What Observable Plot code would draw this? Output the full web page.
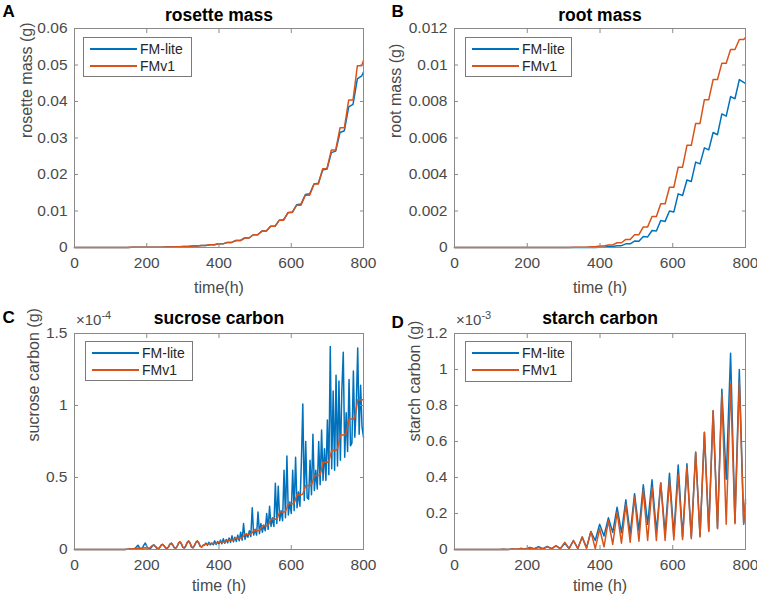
<!DOCTYPE html>
<html><head><meta charset="utf-8">
<script src="https://cdn.jsdelivr.net/npm/d3@7"></script>
<script src="https://cdn.jsdelivr.net/npm/@observablehq/plot@0.6"></script>
<style>
body{margin:0;background:#fff;font-family:"Liberation Sans",Arial,sans-serif;}
#fig{position:relative;width:757px;height:598px;overflow:hidden;background:#fff;}
.panel{position:absolute;}
.legend{position:absolute;box-sizing:border-box;border:1px solid #7a7a7a;background:#fff;font-size:14px;color:#262626;}
.legend .row{position:absolute;left:0;height:16px;line-height:16px;white-space:nowrap;}
.legend .sw{position:absolute;top:7px;height:2px;}
.legend .lab{position:absolute;}
.expo{position:absolute;font-size:15px;color:#4a4a4a;white-space:nowrap;}
.expo sup{font-size:11px;vertical-align:0;position:relative;top:-6px;}
</style></head><body><div id="fig"></div>
<script>
// ---------- data ----------
const BLUE = "#0072BD", ORANGE = "#D95319";
const seriesNames = ["FM-lite", "FMv1"];
const xTicks = [0, 200, 400, 600, 800];
const xTickLabels = ["0", "200", "400", "600", "800"];

// time grid (h): start, then dawn/dusk of each day, then end
const t12 = [0,
  3,15, 27,39, 51,63, 75,87, 99,111, 123,135, 147,159, 171,183, 195,207, 219,231,
  243,255, 267,279, 291,303, 315,327, 339,351, 363,375, 387,399, 411,423, 435,447,
  459,471, 483,495, 507,519, 531,543, 555,567, 579,591, 603,615, 627,639, 651,663,
  675,687, 699,711, 723,735, 747,759, 771,783, 795, 800];

// A: rosette mass (g)
const rosetteLite = [0.000005,
  0.000005,0.000006, 0.000006,0.000008, 0.000008,0.00001, 0.00001,0.000013, 0.000013,0.000018,
  0.000018,0.000025, 0.000025,0.000035, 0.000035,0.00005, 0.00005,0.00007, 0.00007,0.0001,
  0.0001,0.00014, 0.00014,0.0002, 0.0002,0.00029, 0.00029,0.0004, 0.0004,0.00055,
  0.00055,0.00075, 0.00075,0.001, 0.001,0.0014, 0.0014,0.0019, 0.0019,0.0026,
  0.0026,0.0035, 0.0035,0.0045, 0.0045,0.0058, 0.0058,0.0075, 0.0076,0.0095,
  0.0097,0.0117, 0.0119,0.0145, 0.0147,0.0174, 0.0176,0.0212, 0.0215,0.026,
  0.0264,0.0315, 0.032,0.0385, 0.0392,0.0462, 0.047, 0.0481];
const rosetteV1 = [0.000005,
  0.000005,0.000006, 0.000006,0.000008, 0.000008,0.00001, 0.00001,0.000013, 0.000013,0.000018,
  0.000018,0.000025, 0.000025,0.000035, 0.000035,0.00005, 0.00005,0.00007, 0.00007,0.0001,
  0.0001,0.00014, 0.00014,0.0002, 0.0002,0.00029, 0.00029,0.0004, 0.0004,0.00055,
  0.00055,0.00075, 0.00075,0.001, 0.001,0.0014, 0.0014,0.0019, 0.0019,0.0026,
  0.0026,0.0035, 0.0035,0.0045, 0.0045,0.0058, 0.0058,0.0075, 0.0075,0.0096,
  0.0096,0.0116, 0.0116,0.0143, 0.0143,0.0174, 0.0174,0.0216, 0.0216,0.0267,
  0.0267,0.0328, 0.0328,0.0404, 0.0404,0.0498, 0.0498, 0.0512];
const aYTicks = [0, 0.01, 0.02, 0.03, 0.04, 0.05, 0.06];
const aYLabels = ["0", "0.01", "0.02", "0.03", "0.04", "0.05", "0.06"];

// B: root mass (g)
const rootLite = [0,
  0,0, 0,0, 0,0, 0,0, 0,0, 0,0, 0,0, 0,0, 0,0, 0,0,
  0,0, 0,0, 0,0, 0,0, 0,0, 0,0.000005, 0.000005,0.00002, 0.00002,0.00005, 0.00005,0.0001,
  0.0001,0.0002, 0.0002,0.00035, 0.00034,0.0006, 0.00058,0.00093, 0.0009,0.00148, 0.00143,0.002,
  0.00195,0.00294, 0.00285,0.0037, 0.00362,0.00468, 0.00458,0.00546, 0.00535,0.0063,
  0.00618,0.00732, 0.0072,0.00827, 0.00815,0.0092, 0.00905, 0.0090];
const rootV1 = [0,
  0,0, 0,0, 0,0, 0,0, 0,0, 0,0, 0,0, 0,0, 0,0, 0,0,
  0,0, 0,0, 0,0.000005, 0.000005,0.00001, 0.00001,0.00002, 0.00002,0.00004, 0.00004,0.00008, 0.00008,0.00014, 0.00014,0.00026,
  0.00026,0.00044, 0.00044,0.0007, 0.0007,0.00113, 0.00113,0.0017, 0.0017,0.0024, 0.0024,0.0033,
  0.0033,0.0044, 0.0044,0.0056, 0.0056,0.0068, 0.0068,0.0081, 0.0081,0.0092,
  0.0092,0.0101, 0.0101,0.01085, 0.01085,0.0114, 0.0114, 0.0115];
const bYTicks = [0, 0.002, 0.004, 0.006, 0.008, 0.01, 0.012];
const bYLabels = ["0", "0.002", "0.004", "0.006", "0.008", "0.01", "0.012"];

// C: sucrose carbon (units of 1e-4 g), sampled every 4 h
const t4 = d3.range(0, 801, 4);
const sucroseLite = [
  0,0,0,0,0,0, 0,0,0,0,0,0, 0,0,0,0,0,0, 0,0,0,0,0,0, 0,0,0,0,0,0, 0,0,0,0,0,0,
  0.001,0.002,0.003,0.004,0.005,0.006,
  0.008,0.02,0.03,0.012,0.006,0.01,
  0.03,0.045,0.022,0.008,0.006,0.012,
  0.026,0.032,0.02,0.009,0.006,0.014,
  0.03,0.036,0.025,0.011,0.007,0.017,
  0.036,0.043,0.03,0.013,0.008,0.02,
  0.043,0.052,0.038,0.015,0.01,0.024,
  0.048,0.057,0.043,0.018,0.012,0.027,
  0.048,0.058,0.045,0.022,0.017,0.03,
  0.03,0.045,0.028,0.05,0.032,0.045,
  0.033,0.06,0.035,0.055,0.038,0.065,
  0.04,0.075,0.043,0.07,0.046,0.08,
  0.05,0.095,0.053,0.085,0.056,0.1,
  0.06,0.12,0.065,0.18,0.07,0.11,
  0.085,0.13,0.09,0.29,0.10,0.14,
  0.10,0.26,0.11,0.18,0.12,0.17,
  0.13,0.25,0.14,0.30,0.16,0.22,
  0.16,0.46,0.18,0.44,0.20,0.27,
  0.20,0.55,0.22,0.65,0.24,0.33,
  0.25,0.55,0.27,0.64,0.29,0.40,
  0.30,0.60,1.01,0.34,0.75,0.36,
  0.35,0.62,0.38,0.80,0.41,0.55,
  0.42,0.75,0.45,0.83,0.48,0.70,
  0.48,0.90,0.52,1.41,0.56,1.10,
  0.55,1.21,0.58,1.17,0.62,1.10,
  1.37,0.64,0.95,0.68,1.18,0.72,
  0.74,1.24,0.78,1.00,1.40,0.80,
  1.14,0.85,0.78];
const sucroseV1 = [
  0,0,0,0,0,0, 0,0,0,0,0,0, 0,0,0,0,0,0, 0,0,0,0,0,0, 0,0,0,0,0,0, 0,0,0,0,0,0,
  0.001,0.002,0.003,0.004,0.005,0.005,
  0.006,0.008,0.01,0.008,0.006,0.008,
  0.01,0.012,0.01,0.008,0.01,0.02,
  0.028,0.03,0.022,0.01,0.006,0.015,
  0.03,0.035,0.026,0.012,0.007,0.018,
  0.038,0.045,0.033,0.014,0.008,0.02,
  0.045,0.055,0.04,0.016,0.01,0.025,
  0.05,0.06,0.045,0.018,0.012,0.028,
  0.05,0.06,0.047,0.022,0.018,0.028,
  0.035,0.036,0.036,0.039,0.042,0.042,
  0.042,0.042,0.042,0.047,0.052,0.052,
  0.052,0.052,0.052,0.058,0.065,0.065,
  0.065,0.065,0.066,0.073,0.08,0.08,
  0.08,0.08,0.082,0.093,0.105,0.105,
  0.105,0.105,0.107,0.118,0.13,0.13,
  0.13,0.13,0.133,0.15,0.165,0.165,
  0.165,0.165,0.168,0.19,0.21,0.21,
  0.21,0.21,0.213,0.235,0.26,0.26,
  0.26,0.26,0.265,0.29,0.317,0.317,
  0.317,0.317,0.322,0.35,0.38,0.38,
  0.38,0.38,0.386,0.415,0.444,0.444,
  0.444,0.444,0.45,0.48,0.514,0.514,
  0.514,0.514,0.52,0.56,0.606,0.606,
  0.606,0.606,0.612,0.65,0.69,0.69,
  0.69,0.69,0.698,0.745,0.796,0.796,
  0.796,0.796,0.805,0.855,0.907,0.907,
  0.907,0.907,0.917,0.975,1.04,1.04,
  1.04,1.04,1.04];
const cYTicks = [0, 0.5, 1, 1.5];
const cYLabels = ["0", "0.5", "1", "1.5"];

// D: starch carbon (units of 1e-3 g)
const starchLite = [0,
  0,0, 0,0, 0,0, 0,0, 0,0, 0,0.001, 0,0.003, 0.001,0.006, 0.003,0.012, 0.004,0.015,
  0.004,0.017, 0.005,0.02, 0.005,0.035, 0.006,0.05, 0.006,0.07, 0.01,0.10, 0.05,0.14, 0.075,0.176, 0.095,0.235,
  0.093,0.276, 0.087,0.31, 0.105,0.36, 0.14,0.387, 0.1,0.37, 0.09,0.424,
  0.08,0.47, 0.07,0.476, 0.07,0.54, 0.075,0.65, 0.105,0.77,
  0.12,0.89, 0.39,1.09, 0.15,1.0, 0.14, 0.26];
const starchV1 = [0,
  0,0, 0,0, 0,0, 0,0, 0,0, 0,0.001, 0,0.003, 0.001,0.005, 0.002,0.008, 0.003,0.011,
  0.003,0.015, 0.004,0.022, 0.004,0.04, 0.005,0.05, 0.005,0.07, 0.006,0.10, 0.005,0.115, 0.015,0.16, 0.028,0.207,
  0.035,0.25, 0.04,0.29, 0.046,0.33, 0.05,0.346, 0.05,0.37, 0.05,0.385,
  0.053,0.415, 0.055,0.457, 0.06,0.54, 0.069,0.652, 0.10,0.772,
  0.115,0.865, 0.14,0.92, 0.143,0.93, 0.146, 0.28];
const dYTicks = [0, 0.2, 0.4, 0.6, 0.8, 1, 1.2];
const dYLabels = ["0", "0.2", "0.4", "0.6", "0.8", "1", "1.2"];

// ---------- drawing ----------
const FONT = '"Liberation Sans", Arial, Helvetica, sans-serif';
const FRAME = "#8a8a8a";
const TICKTXT = "#4a4a4a";
const fig = document.getElementById("fig");

function panel(cfg) {
  const [bx, by, bw, bh] = cfg.box;          // svg box in page
  const [fx0, fx1, fy0, fy1] = cfg.frame;    // frame in page
  const mL = fx0 - bx, mR = bx + bw - fx1, mT = fy0 - by, mB = by + bh - fy1;
  const xFmt = d => xTickLabels[xTicks.indexOf(d)];
  const yFmt = d => cfg.yLabels[cfg.yTicks.indexOf(d)];
  const liteRows = cfg.times.map((t, i) => ({t, v: cfg.lite[i]}));
  const v1Rows = cfg.times.map((t, i) => ({t, v: cfg.v1[i]}));
  const blank = () => "";
  const txt = (s, o) => Plot.text([s], {text: d => d, fontFamily: FONT, ...o});
  const svg = Plot.plot({
    width: bw, height: bh,
    marginLeft: mL, marginRight: mR, marginTop: mT, marginBottom: mB,
    x: {domain: [0, 800]},
    y: {domain: cfg.yDomain},
    style: {fontFamily: FONT, background: "transparent", overflow: "visible"},
    marks: [
      Plot.line(liteRows, {x: "t", y: "v", stroke: BLUE, strokeWidth: 1.5}),
      Plot.line(v1Rows, {x: "t", y: "v", stroke: ORANGE, strokeWidth: 1.5}),
      Plot.frame({stroke: FRAME, strokeWidth: 1}),
      // inward ticks on four sides
      Plot.axisX(xTicks, {anchor: "bottom", tickSize: 4, dy: -4, tickFormat: blank, label: null, stroke: FRAME}),
      Plot.axisX(xTicks, {anchor: "top", tickSize: 4, dy: 4, tickFormat: blank, label: null, stroke: FRAME}),
      Plot.axisY(cfg.yTicks, {anchor: "left", tickSize: 4, dx: 4, tickFormat: blank, label: null, stroke: FRAME}),
      Plot.axisY(cfg.yTicks, {anchor: "right", tickSize: 4, dx: -4, tickFormat: blank, label: null, stroke: FRAME}),
      // tick labels
      Plot.axisX(xTicks, {anchor: "bottom", tickSize: 0, tickPadding: 9, tickFormat: xFmt, label: null, fontSize: 15.5, fill: TICKTXT}),
      Plot.axisY(cfg.yTicks, {anchor: "left", tickSize: 0, tickPadding: 7, tickFormat: yFmt, label: null, fontSize: 15.5, fill: TICKTXT}),
      // title, panel letter, axis labels
      txt(cfg.title, {frameAnchor: "top", dy: cfg.titleBase - fy0, lineAnchor: "bottom", fontSize: 17.5, fontWeight: "bold", fill: "#000"}),
      txt(cfg.letter, {frameAnchor: "top-left", textAnchor: "start", dx: cfg.letterPos[0] - fx0, dy: cfg.letterPos[1] - fy0, lineAnchor: "bottom", fontSize: 17, fontWeight: "bold", fill: "#000"}),
      txt(cfg.xlabel, {frameAnchor: "bottom", dy: cfg.xlabelBase - fy1, lineAnchor: "bottom", fontSize: 16, fill: TICKTXT}),
      txt(cfg.ylabel, {frameAnchor: "left", dx: cfg.ylabelBase - fx0, rotate: -90, lineAnchor: "bottom", fontSize: 16, fill: TICKTXT})
    ]
  });
  const wrap = document.createElement("div");
  wrap.className = "panel";
  wrap.style.left = bx + "px"; wrap.style.top = by + "px";
  wrap.appendChild(svg);
  fig.appendChild(wrap);

  // legend
  const [lx, ly, lw, lh] = cfg.legend;
  const lg = document.createElement("div");
  lg.className = "legend";
  Object.assign(lg.style, {left: lx + "px", top: ly + "px", width: lw + "px", height: lh + "px"});
  [BLUE, ORANGE].forEach((c, i) => {
    const row = document.createElement("div");
    row.className = "row";
    row.style.top = (3 + i * 17) + "px";
    row.style.width = lw + "px";
    const sw = document.createElement("span");
    sw.className = "sw";
    Object.assign(sw.style, {left: "6px", width: "47px", background: c});
    const lab = document.createElement("span");
    lab.className = "lab";
    lab.style.left = "56px";
    lab.textContent = seriesNames[i];
    row.appendChild(sw); row.appendChild(lab);
    lg.appendChild(row);
  });
  fig.appendChild(lg);

  if (cfg.expo) {
    const e = document.createElement("div");
    e.className = "expo";
    e.style.left = cfg.expo.x + "px";
    e.style.top = cfg.expo.y + "px";
    e.innerHTML = "×10<sup>" + cfg.expo.p + "</sup>";
    fig.appendChild(e);
  }
}

panel({box: [0, 0, 378, 300], frame: [74, 363, 28, 247], yDomain: [0, 0.06], yTicks: aYTicks, yLabels: aYLabels,
  times: t12, lite: rosetteLite, v1: rosetteV1, title: "rosette mass", titleBase: 20, letter: "A", letterPos: [2, 16],
  xlabel: "time(h)", xlabelBase: 292, ylabel: "rosette mass (g)", ylabelBase: 31, legend: [83, 37, 109, 40]});
panel({box: [378, 0, 379, 300], frame: [454, 745, 28, 247], yDomain: [0, 0.012], yTicks: bYTicks, yLabels: bYLabels,
  times: t12, lite: rootLite, v1: rootV1, title: "root mass", titleBase: 20, letter: "B", letterPos: [391, 16],
  xlabel: "time (h)", xlabelBase: 292, ylabel: "root mass (g)", ylabelBase: 400, legend: [465, 37, 107, 40]});
panel({box: [0, 300, 378, 298], frame: [74, 363, 333, 549], yDomain: [0, 1.5], yTicks: cYTicks, yLabels: cYLabels,
  times: t4, lite: sucroseLite, v1: sucroseV1, title: "sucrose carbon", titleBase: 323, letter: "C", letterPos: [2, 322],
  xlabel: "time (h)", xlabelBase: 590, ylabel: "sucrose carbon (g)", ylabelBase: 38, legend: [85, 341, 108, 40],
  expo: {x: 76, y: 311, p: "-4"}});
panel({box: [378, 300, 379, 298], frame: [454, 745, 333, 549], yDomain: [0, 1.2], yTicks: dYTicks, yLabels: dYLabels,
  times: t12, lite: starchLite, v1: starchV1, title: "starch carbon", titleBase: 323, letter: "D", letterPos: [391, 327],
  xlabel: "time (h)", xlabelBase: 590, ylabel: "starch carbon (g)", ylabelBase: 419, legend: [465, 341, 107, 41],
  expo: {x: 456, y: 311, p: "-3"}});
</script></body></html>
